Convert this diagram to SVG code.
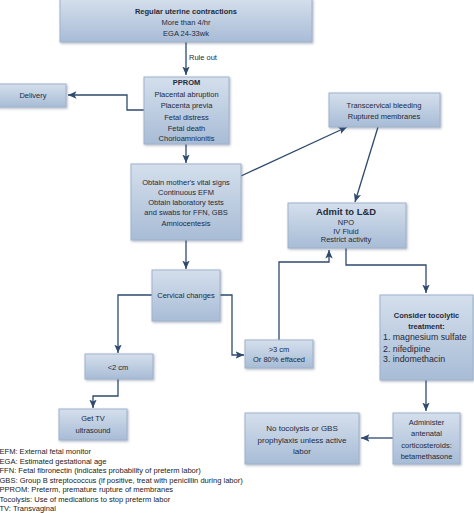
<svg xmlns="http://www.w3.org/2000/svg" width="474" height="513" viewBox="0 0 474 513">
<style>
.box{fill:url(#g);stroke:#9fb2cb;stroke-width:1;filter:url(#sh)}
text{font-family:"Liberation Sans",Arial,sans-serif;font-size:7.5px;fill:#1f2a3a}
.c{text-anchor:middle}
.b{font-weight:bold}
.lg{font-size:7.55px;fill:#222}
.li{font-size:8.8px}
.cn{fill:none;stroke:#2e4a6e;stroke-width:1.3;marker-end:url(#ah)}
</style>
<defs>
<linearGradient id="g" x1="0" y1="0" x2="0" y2="1">
<stop offset="0" stop-color="#d4dfec"/>
<stop offset="1" stop-color="#a8bcd6"/>
</linearGradient>
<filter id="sh" x="-10%" y="-10%" width="130%" height="130%">
<feDropShadow dx="1" dy="1.2" stdDeviation="0.8" flood-color="#405070" flood-opacity="0.4"/>
</filter>
<marker id="ah" markerUnits="userSpaceOnUse" markerWidth="9" markerHeight="9" viewBox="0 0 9 9" refX="8.5" refY="4.5" orient="auto">
<path d="M0,0.8 L8.5,4.5 L0,8.2 L2,4.5 z" fill="#2e4a6e"/>
</marker>
</defs>

<g id="connectors">
<path class="cn" d="M186,42 V75"/>
<path class="cn" d="M144,110 H127 V95 H68"/>
<path class="cn" d="M186,144 V163"/>
<path class="cn" d="M241,176 L347,127"/>
<path class="cn" d="M378,127 L355,202"/>
<path class="cn" d="M186,240 V269"/>
<path class="cn" d="M346,248 V265 H426 V293"/>
<path class="cn" d="M152,295 H118 V353"/>
<path class="cn" d="M118,379 V396 H93 V408"/>
<path class="cn" d="M220,295 H232 V355 H244"/>
<path class="cn" d="M279,340 V262 H329 V250"/>
<path class="cn" d="M426,380 V411"/>
<path class="cn" d="M393,438 H361"/>
<text x="189" y="60">Rule out</text>
</g>

<g id="top">
<rect class="box" x="60" y="-1" width="252" height="43"/>
<text class="c b" x="186" y="13.5">Regular uterine contractions</text>
<text class="c" x="186" y="24.5">More than 4/hr</text>
<text class="c" x="186" y="35.5">EGA 24-33wk</text>
</g>

<g id="pprom">
<rect class="box" x="144" y="77" width="85" height="67"/>
<text class="c b" x="186.5" y="85">PPROM</text>
<text class="c" x="186.5" y="97">Placental abruption</text>
<text class="c" x="186.5" y="108">Placenta previa</text>
<text class="c" x="186.5" y="119.5">Fetal distress</text>
<text class="c" x="186.5" y="130.5">Fetal death</text>
<text class="c" x="186.5" y="140.5">Chorioamnionitis</text>
</g>

<g id="delivery">
<rect class="box" x="-2" y="84" width="68" height="23"/>
<text class="c" x="33" y="98">Delivery</text>
</g>

<g id="obtain">
<rect class="box" x="131" y="164" width="110" height="76"/>
<text class="c" x="186" y="185">Obtain mother's vital signs</text>
<text class="c" x="186" y="195">Continuous EFM</text>
<text class="c" x="186" y="205">Obtain laboratory tests</text>
<text class="c" x="186" y="215">and swabs for FFN, GBS</text>
<text class="c" x="186" y="225.5">Amniocentesis</text>
</g>

<g id="transcervical">
<rect class="box" x="329" y="93" width="111" height="34"/>
<text class="c" x="384" y="107.5">Transcervical bleeding</text>
<text class="c" x="384" y="119">Ruptured membranes</text>
</g>

<g id="admit">
<rect class="box" x="288" y="203" width="118" height="45"/>
<text class="c b" x="346" y="215" style="font-size:9.4px">Admit to L&amp;D</text>
<text class="c" x="346" y="224.5">NPO</text>
<text class="c" x="346" y="233.5">IV Fluid</text>
<text class="c" x="346" y="242">Restrict activity</text>
</g>

<g id="cervical">
<rect class="box" x="152" y="270" width="68" height="51"/>
<text class="c" x="186" y="298">Cervical changes</text>
</g>

<g id="lt2">
<rect class="box" x="85" y="354" width="68" height="25"/>
<text class="c" x="118" y="370">&lt;2 cm</text>
</g>

<g id="gettv">
<rect class="box" x="59" y="409" width="68" height="31"/>
<text class="c" x="93" y="421">Get TV</text>
<text class="c" x="93" y="433">ultrasound</text>
</g>

<g id="gt3">
<rect class="box" x="245" y="340" width="68" height="28"/>
<text class="c" x="279" y="352">&gt;3 cm</text>
<text class="c" x="279" y="361.5">Or 80% effaced</text>
</g>

<g id="consider">
<rect class="box" x="380" y="295" width="93" height="85"/>
<text class="c b" x="426.5" y="318">Consider tocolytic</text>
<text class="c b" x="426.5" y="329">treatment:</text>
<text class="li" x="383" y="340">1. magnesium sulfate</text>
<text class="li" x="383" y="351.5">2. nifedipine</text>
<text class="li" x="383" y="362">3. indomethacin</text>
</g>

<g id="administer">
<rect class="box" x="393" y="413" width="67" height="51"/>
<text class="c" x="426.5" y="425">Administer</text>
<text class="c" x="426.5" y="436">antenatal</text>
<text class="c" x="426.5" y="447.5">corticosteroids:</text>
<text class="c" x="426.5" y="459">betamethasone</text>
</g>

<g id="notocolysis">
<rect class="box" x="245" y="413" width="114" height="51"/>
<text class="c" x="302" y="431" style="font-size:8px">No tocolysis or GBS</text>
<text class="c" x="302" y="443" style="font-size:8px">prophylaxis unless active</text>
<text class="c" x="302" y="454" style="font-size:8px">labor</text>
</g>

<g id="legend">
<text class="lg" x="-0.5" y="454">EFM: External fetal monitor</text>
<text class="lg" x="-0.5" y="463.5">EGA: Estimated gestational age</text>
<text class="lg" x="-0.5" y="473">FFN: Fetal fibronectin (indicates probability of preterm labor)</text>
<text class="lg" x="-0.5" y="482.5">GBS: Group B streptococcus (if positive, treat with penicillin during labor)</text>
<text class="lg" x="-0.5" y="492">PPROM: Preterm, premature rupture of membranes</text>
<text class="lg" x="-0.5" y="501.5">Tocolysis: Use of medications to stop preterm labor</text>
<text class="lg" x="-0.5" y="511">TV: Transvaginal</text>
</g>
</svg>
